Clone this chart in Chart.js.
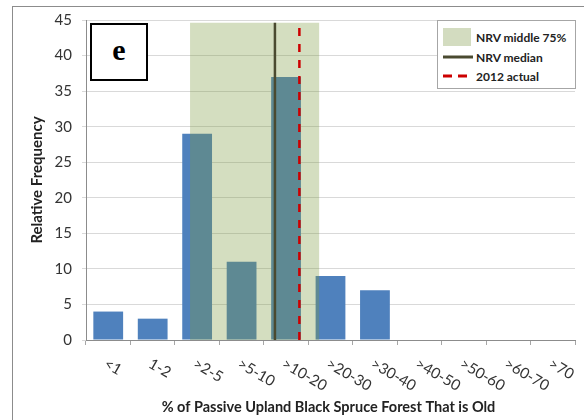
<!DOCTYPE html>
<html lang="en">
<head>
  <meta charset="UTF-8">
  <title>Passive Upland Black Spruce Forest</title>
  <script src="https://cdn.jsdelivr.net/npm/chart.js"></script>
  <style>
    body { margin: 0; background: #fff; font-family: Lato, "Open Sans", sans-serif; }
    #wrap { position: relative; width: 584px; height: 420px; overflow: hidden; }
    #frame { position: absolute; left: 12px; top: 6px; width: 600px; height: 500px;
             border-left: 1px solid #8c8c8c; border-top: 1px solid #8c8c8c; }
    canvas { position: absolute; left: 0; top: 0; }
    #panel { position: absolute; left: 90px; top: 23px; width: 54px; height: 54px;
             border: 2px solid #000; background: #fff; text-align: center;
             font: bold 30px "Liberation Serif", serif; line-height: 50px; }
    #legend { position: absolute; left: 437px; top: 20px; width: 137px; height: 67px;
              border: 1px solid #a6a6a6; background: #fff; font: bold 12px Lato, sans-serif; color: #222; }
    .row { position: absolute; left: 5px; height: 18px; display: flex; align-items: center; }
    .row span { margin-left: 5px; }
    .sw { width: 28px; height: 18px; }
  </style>
</head>
<body>
  <div id="wrap">
    <div id="frame"></div>
    <canvas id="chart" width="584" height="420"></canvas>
    <div id="panel">e</div>
    <div id="legend">
      <div class="row" style="top:7px"><div class="sw" style="background:#d3dcc0"></div><span>NRV middle 75%</span></div>
      <div class="row" style="top:27px"><svg width="30" height="18"><line x1="0" y1="9" x2="30" y2="9" stroke="#4a4a30" stroke-width="3"/></svg><span style="margin-left:3px">NRV median</span></div>
      <div class="row" style="top:46px"><svg width="30" height="18"><line x1="0" y1="9" x2="30" y2="9" stroke="#cc0000" stroke-width="3" stroke-dasharray="9,6"/></svg><span style="margin-left:3px">2012 actual</span></div>
    </div>
  </div>

  <script>
    // categories and values
    const categories = ["<1", "1-2", ">2-5", ">5-10", ">10-20", ">20-30", ">30-40", ">40-50", ">50-60", ">60-70", ">70"];
    const frequency = [4, 3, 29, 11, 37, 9, 7, 0, 0, 0, 0];

    // reference lines in category-index units
    const nrvBand = [1.84, 4.75];   // NRV middle 75% (from, to)
    const nrvBandTop = 44.6;
    const nrvMedian = 3.75;
    const actual2012 = 4.3;
    const actualTop = 44;

    const yTicks = { min: 0, max: 45, step: 5 };

    // draw the rotated x labels and axis titles
    const axisText = {
      id: "axisText",
      afterDraw(chart) {
        const ctx = chart.ctx;
        const xs = chart.scales.x;
        const area = chart.chartArea;
        ctx.save();
        ctx.fillStyle = "#333";
        ctx.font = "15px Lato, sans-serif";
        ctx.textAlign = "left";
        ctx.textBaseline = "top";
        categories.forEach((c, i) => {
          const x = xs.getPixelForTick(i);
          ctx.save();
          ctx.translate(x + 1, area.bottom + 16);
          ctx.rotate(Math.PI / 6);
          ctx.fillText(c, 0, 0);
          ctx.restore();
        });
        ctx.fillStyle = "#222";
        ctx.font = "bold 14.5px Lato, sans-serif";
        ctx.textAlign = "center";
        ctx.textBaseline = "middle";
        ctx.fillText("% of Passive Upland Black Spruce Forest That is Old", (area.left + area.right) / 2 - 2, 407);
        ctx.font = "bold 15px Lato, sans-serif";
        ctx.save();
        ctx.translate(37, (area.top + area.bottom) / 2);
        ctx.rotate(-Math.PI / 2);
        ctx.fillText("Relative Frequency", 0, 0);
        ctx.restore();
        ctx.restore();
      }
    };

    new Chart(document.getElementById("chart"), {
      data: {
        labels: categories,
        datasets: [
          {
            type: "bar",
            data: frequency,
            backgroundColor: "#4f81bd",
            barPercentage: 0.67,
            categoryPercentage: 1,
            grouped: false,
            order: 4
          },
          {
            type: "line",
            xAxisID: "xo",
            data: [{ x: nrvBand[0], y: nrvBandTop }, { x: nrvBand[1], y: nrvBandTop }],
            fill: "origin",
            backgroundColor: "rgba(124,155,64,0.33)",
            borderWidth: 0,
            pointRadius: 0,
            order: 3
          },
          {
            type: "line",
            xAxisID: "xo",
            data: [{ x: nrvMedian, y: 0 }, { x: nrvMedian, y: nrvBandTop }],
            borderColor: "#4a4a30",
            borderWidth: 2.5,
            pointRadius: 0,
            order: 2
          },
          {
            type: "line",
            xAxisID: "xo",
            data: [{ x: actual2012, y: 0 }, { x: actual2012, y: actualTop }],
            borderColor: "#cc0000",
            borderWidth: 2.5,
            borderDash: [8, 8],
            pointRadius: 0,
            order: 1
          }
        ]
      },
      options: {
        responsive: false,
        animation: false,
        layout: { padding: { left: 0, top: 20, right: 9, bottom: 0 } },
        plugins: { legend: { display: false }, tooltip: { enabled: false } },
        scales: {
          x: {
            type: "category",
            offset: true,
            ticks: { display: false },
            grid: { offset: true, drawOnChartArea: false, drawTicks: true, tickLength: 5, color: "#a6a6a6" },
            border: { color: "#8c8c8c" },
            afterFit(s) { s.height = 80; }
          },
          xo: {
            type: "linear",
            display: false,
            min: -0.5,
            max: 10.5
          },
          y: {
            min: yTicks.min,
            max: yTicks.max,
            ticks: { stepSize: yTicks.step, color: "#333", padding: 10, font: { family: "Lato", size: 15 } },
            grid: { color: "#d9d9d9", tickLength: 4 },
            border: { color: "#8c8c8c" },
            afterFit(s) { s.width = 86; }
          }
        }
      },
      plugins: [axisText]
    });
  </script>
</body>
</html>
